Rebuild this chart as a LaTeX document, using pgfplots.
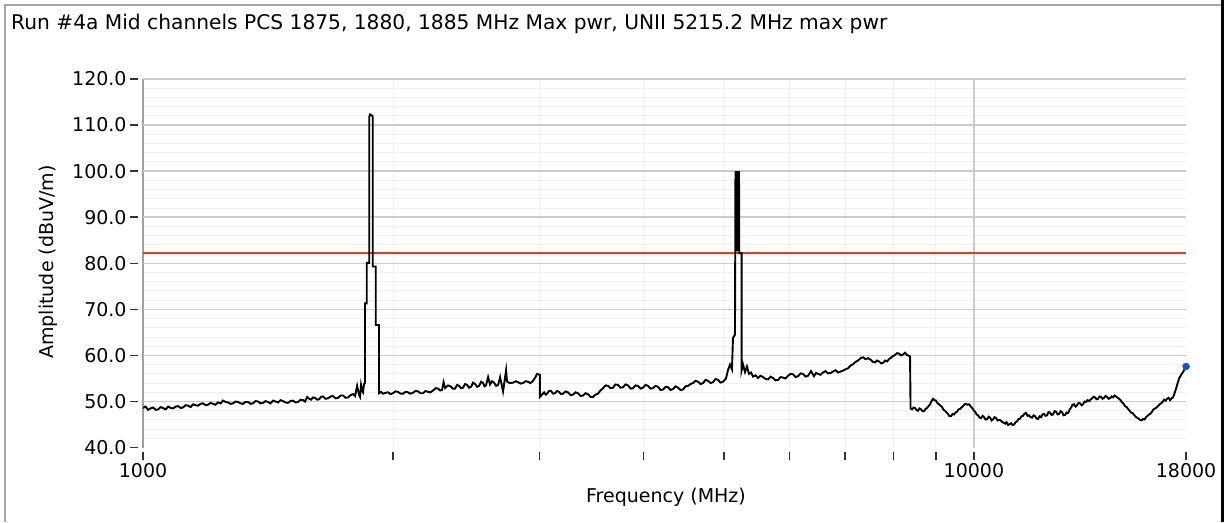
\documentclass[border=0pt]{standalone}
\usepackage{pgfplots}
\pgfplotsset{compat=1.18}
\usepackage{fontspec}
\setmainfont{DejaVu Sans}
\newcommand{\ff}{\fontsize{19}{22}\selectfont}
\definecolor{limitred}{RGB}{232,56,40}
\definecolor{dotblue}{RGB}{20,80,220}
\begin{document}
\begin{tikzpicture}
\useasboundingbox (0pt,0pt) rectangle (1225pt,522pt);
\fill[white] (0pt,0pt) rectangle (1225pt,522pt);
\draw[gray!70, line width=1.5pt] (5pt,0pt) -- (5pt,517pt) -- (1221pt,517pt);
\draw[black, line width=3pt] (1222.5pt,0pt) -- (1222.5pt,522pt);
\node[anchor=base west, font=\fontsize{20.2}{23}\selectfont, inner sep=0pt] at (11pt,492pt) {Run \#4a Mid channels PCS 1875, 1880, 1885 MHz Max pwr, UNII 5215.2 MHz max pwr};
\node[rotate=90, font=\ff] at (48pt,260pt) {Amplitude (dBuV/m)};
\node[font=\ff] at (666pt,25pt) {Frequency (MHz)};
\begin{axis}[
 at={(143pt,74.4pt)}, anchor=south west,
 scale only axis, width=1043pt, height=368.6pt,
 xmode=log, log basis x=10,
 xmin=1000, xmax=18000, ymin=40, ymax=120,
 axis lines*=left,
 x axis line style={draw=none},
 y axis line style={draw=gray!75, line width=1.5pt},
 xtick={1000,2000,3000,4000,5000,6000,7000,8000,9000,10000,18000},
 xticklabels={1000,,,,,,,,,10000,18000},
 minor xtick={2000,3000,4000,5000,6000,7000,8000,9000},
 ytick={40,50,...,120},
 yticklabels={40.0,50.0,60.0,70.0,80.0,90.0,100.0,110.0,120.0},
 minor ytick={42,44,...,118},
 xminorgrids=true, yminorgrids=true,
 xmajorgrids=false, ymajorgrids=false,
 minor grid style={gray!12, line width=1pt},
 major grid style={gray!40, line width=1.5pt},
 extra x ticks={10000}, extra x tick labels={},
 extra x tick style={grid=major, major tick length=0pt},
 extra y ticks={50,60,...,120}, extra y tick labels={},
 extra y tick style={grid=major, major tick length=0pt},
 tick align=outside,
 major tick length=8pt, minor tick length=0pt,
 tick style={black!80, line width=1.5pt},
 xtick style={yshift=-4.5pt}, ytick style={xshift=-5pt},
 ticklabel style={font=\ff},
 xticklabel style={yshift=-4pt},
 yticklabel style={xshift=-5pt},
]
\addplot[limitred, line width=1.6pt] coordinates {(1000,82.2)(18000,82.2)};
\addplot[black, line width=1.9pt] coordinates {
(1000,48.6)(1007,48.9)(1014,48.2)(1021,48.5)(1028,48.7)(1036,48.2)(1043,48.3)(1050,48.8)(1057,48.6)(1065,48.3)(1072,48.9)(1080,48.6)(1087,48.5)(1095,48.9)(1102,49.0)(1110,48.6)(1117,48.7)(1125,49.2)(1133,49.1)
(1141,48.8)(1149,49.4)(1157,49.2)(1165,49.1)(1173,49.5)(1181,49.6)(1189,49.2)(1197,49.3)(1206,49.7)(1214,49.5)(1222,49.3)(1231,49.8)(1240,49.6)(1248,50.2)(1257,49.9)(1266,49.8)(1275,49.5)(1283,49.6)(1292,50.0)(1301,49.9)
(1310,49.6)(1319,49.5)(1328,49.9)(1338,49.9)(1347,49.5)(1356,49.6)(1366,50.1)(1375,50.0)(1385,49.6)(1395,49.7)(1404,50.1)(1414,49.9)(1424,49.6)(1434,50.2)(1444,50.0)(1454,49.8)(1464,50.3)(1474,50.1)(1484,49.8)(1494,49.7)
(1505,50.1)(1515,50.2)(1526,49.8)(1537,49.9)(1547,50.4)(1558,50.3)(1567,50.0)(1576,51.0)(1585,50.6)(1593,50.4)(1602,50.9)(1611,50.8)(1620,50.4)(1629,50.5)(1638,51.0)(1647,51.1)(1658,50.6)(1670,50.7)(1682,51.1)(1693,51.2)
(1705,50.7)(1717,50.8)(1729,51.3)(1741,51.3)(1753,50.8)(1765,50.9)(1778,51.4)(1790,51.6)(1800,51.2)(1810,53.4)(1820,51.4)(1825,51.0)(1830,53.6)(1835,52.4)
(1840,52.0)(1845,53.8)(1850,54.0)(1850,71.3)(1859,71.3)(1859,80.1)(1872,80.1)(1872,111.8)(1876,112.3)(1882,112.2)
(1890,111.9)(1890,79.3)(1906,79.3)(1906,66.6)(1923,66.6)(1923,51.8)
(1934,52.1)(1945,51.7)(1958,51.9)(1972,52.0)(1985,51.6)(1999,51.8)(2013,52.2)(2027,52.1)(2041,51.7)(2056,51.7)(2070,52.1)(2084,52.0)(2098,51.7)(2113,51.9)(2128,52.3)(2143,52.2)(2158,51.8)(2173,51.8)(2188,52.3)(2203,52.1)
(2218,52.0)(2234,52.4)(2250,52.9)(2265,52.8)(2278,52.4)(2290,52.5)(2300,54.2)(2310,52.9)(2328,53.5)(2345,53.3)(2360,52.8)(2374,52.8)(2388,53.6)(2401,53.4)(2414,52.9)(2427,53.0)(2441,53.8)(2455,53.6)
(2468,53.0)(2482,53.2)(2496,54.1)(2510,53.8)(2524,53.2)(2538,53.4)(2552,54.3)(2566,54.0)(2577,53.3)(2587,53.5)(2602,55.3)(2616,53.7)(2630,54.4)(2645,54.1)(2660,53.4)(2675,53.6)(2690,55.3)
(2712,52.2)(2735,56.8)(2742,54.3)(2765,54.0)(2788,54.1)(2808,54.4)(2827,54.2)(2846,53.9)(2866,54.0)(2886,54.4)(2906,54.3)(2926,54.0)(2947,54.5)(2965,55.2)(2980,56.0)(3004,55.8)
(3004,51.0)(3021,51.5)(3039,52.0)(3052,51.5)(3064,51.7)(3081,52.3)(3098,52.3)(3115,51.7)(3132,51.8)(3150,52.3)(3167,52.1)(3185,51.6)(3202,51.7)(3225,52.2)(3247,52.0)(3270,51.4)(3292,51.5)(3315,52.0)(3338,51.8)
(3362,51.2)(3385,51.3)(3408,51.8)(3432,51.6)(3456,51.0)(3480,51.0)(3504,51.5)(3528,51.7)(3553,52.4)(3578,52.9)(3603,53.5)(3628,53.4)(3653,52.9)(3678,53.0)(3703,53.7)(3729,53.6)(3755,53.0)(3782,53.1)(3808,53.7)(3835,53.5)
(3862,52.8)(3888,52.9)(3915,53.5)(3942,53.4)(3970,52.8)(3997,53.0)(4025,53.6)(4053,53.4)(4081,52.8)(4109,52.9)(4138,53.4)(4167,53.2)(4196,52.5)(4225,52.6)(4255,53.2)(4284,53.1)(4314,52.5)(4344,52.7)(4374,53.3)(4404,53.0)
(4435,52.5)(4466,52.6)(4497,53.3)(4528,53.4)(4560,53.8)(4591,54.0)(4623,54.5)(4655,54.3)(4688,53.8)(4720,54.0)(4753,54.7)(4786,54.5)(4820,54.0)(4853,54.2)(4886,54.9)(4920,54.7)(4955,54.1)(4989,54.3)(5030,55.0)
(5058,56.8)(5086,58.0)(5114,57.0)(5129,63.8)(5157,64.5)(5164,99.9)(5167,83.0)(5171,100.0)(5174,82.6)(5178,100.0)(5181,82.6)(5186,100.0)(5189,82.6)(5193,100.0)(5196,82.6)(5200,100.0)(5204,82.6)(5207,100.0)(5211,82.6)(5215,100.0)(5219,82.2)(5254,82.2)(5254,56.8)
(5274,58.0)(5302,56.4)(5331,57.6)(5361,56.0)(5392,56.3)(5422,55.4)(5460,55.7)(5497,55.1)(5535,55.6)(5574,55.3)(5613,54.9)(5652,54.8)(5692,55.4)(5731,55.1)
(5771,54.6)(5811,54.7)(5852,55.3)(5892,55.2)(5933,55.0)(5974,55.6)(6016,56.0)(6057,55.9)(6100,55.3)(6142,55.5)(6185,56.1)(6228,56.0)(6272,55.4)(6315,55.6)(6367,56.6)(6420,55.5)(6456,56.2)(6492,56.0)
(6537,55.8)(6582,56.3)(6628,56.6)(6675,56.1)(6721,56.2)(6767,56.5)(6815,56.8)(6862,56.3)(6910,56.5)(6958,56.7)(7006,57.0)(7055,57.2)(7104,57.8)(7153,58.1)(7203,58.6)(7253,58.9)(7303,59.4)(7354,59.6)(7405,59.2)(7457,59.4)
(7519,59.0)(7560,58.6)(7604,58.5)(7646,58.9)(7688,58.7)(7730,58.3)(7773,58.4)(7817,58.9)(7861,58.7)(7905,59.2)(7948,59.5)(7992,59.9)(8036,60.1)(8081,60.5)(8126,60.4)(8171,60.0)(8216,60.2)(8262,60.6)(8308,60.1)
(8377,59.8)(8389,48.5)
(8424,48.3)(8459,48.7)(8494,48.6)(8530,48.1)(8565,48.0)(8601,48.5)(8637,48.3)(8673,47.9)(8709,47.9)(8745,48.4)(8781,48.6)(8818,49.0)(8855,49.4)(8892,50.1)(8929,50.6)(8966,50.3)(9003,50.2)(9040,49.6)(9078,49.4)
(9116,49.1)(9154,48.8)(9192,48.2)(9230,48.0)(9268,47.6)(9307,47.3)(9346,46.8)(9385,46.8)(9424,47.3)(9463,47.2)(9502,47.6)(9542,47.8)(9582,48.3)(9622,48.4)(9662,48.7)(9703,49.0)(9743,49.4)(9784,49.5)(9825,49.3)(9866,49.4)
(9907,49.0)(9948,48.6)(9990,48.1)(10031,47.8)(10073,47.2)(10115,47.0)(10157,46.5)(10200,46.4)(10243,46.9)(10285,46.6)(10328,46.1)(10371,46.2)(10415,46.7)(10458,46.5)(10501,45.9)(10544,46.1)(10588,46.6)(10632,46.4)(10676,45.9)(10721,46.0)
(10766,45.9)(10811,45.6)(10856,45.4)(10901,45.2)(10946,45.5)(10992,44.9)(11038,45.1)(11084,45.3)(11130,44.9)(11176,45.0)(11223,45.5)(11270,45.7)(11317,46.2)(11364,46.3)(11411,46.8)(11458,46.9)(11506,47.4)(11554,47.5)(11602,46.9)(11650,47.0)
(11699,46.6)(11748,46.5)(11797,47.0)(11846,46.8)(11895,46.3)(11945,46.2)(11994,46.8)(12044,46.6)(12094,47.2)(12144,47.3)(12194,46.9)(12245,47.0)(12296,47.7)(12348,47.6)(12400,47.1)(12451,47.2)(12503,47.9)(12555,47.8)(12608,47.2)(12660,47.3)
(12713,47.9)(12765,47.7)(12818,47.0)(12872,47.1)(12926,47.6)(12980,47.5)(13034,48.2)(13088,48.7)(13142,49.3)(13197,49.4)(13252,48.9)(13307,49.2)(13363,49.7)(13419,49.6)(13475,49.2)(13531,49.4)(13587,50.0)(13644,49.9)(13701,50.3)(13758,50.1)
(13815,50.4)(13873,50.7)(13931,51.0)(13989,50.9)(14047,50.5)(14106,50.6)(14164,51.1)(14223,51.0)(14282,50.6)(14342,50.8)(14402,51.2)(14462,51.0)(14522,50.6)(14583,50.7)(14643,51.1)(14704,50.9)(14765,51.3)(14827,51.1)(14889,50.8)(14951,50.6)
(15013,50.3)(15076,49.8)(15139,49.5)(15202,49.0)(15265,48.8)(15329,48.4)(15393,48.0)(15457,47.6)(15521,47.5)(15586,47.1)(15651,46.7)(15716,46.5)(15781,46.3)(15847,46.0)(15912,45.9)(15978,46.2)(16045,46.1)(16112,46.6)(16179,46.9)(16246,47.2)
(16314,47.4)(16382,47.8)(16450,48.3)(16519,48.5)(16588,48.7)(16657,49.0)(16726,49.4)(16796,49.6)(16866,49.9)(16936,50.4)(17007,50.2)(17078,50.6)(17149,50.8)(17221,50.3)(17292,50.7)(17364,50.9)(17436,51.8)(17509,52.8)(17582,53.9)(17656,55.0)
(17730,55.6)(17803,56.1)(17852,56.4)(17902,56.8)(17951,57.1)(18000,57.5)
};
\addplot[only marks, mark=*, mark size=3.5pt, dotblue] coordinates {(18000,57.6)};
\end{axis}
\end{tikzpicture}
\end{document}
